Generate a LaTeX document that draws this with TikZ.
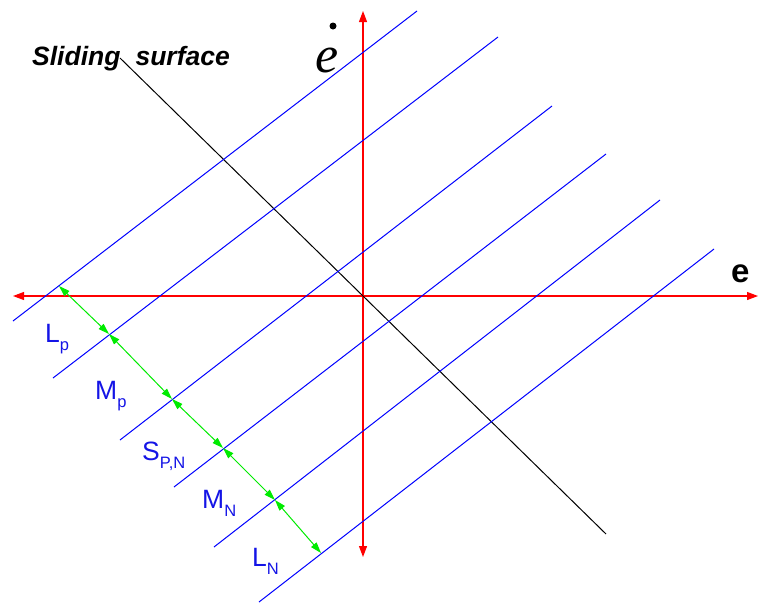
\documentclass[tikz,border=0pt]{standalone}
\usepackage{fontspec}
\setmainfont{Liberation Sans}
\newfontfamily\serifit{Liberation Serif}
\usetikzlibrary{arrows.meta}
\newcommand{\lowsub}[1]{\raisebox{-8pt}{\fontsize{16.5}{16.5}\selectfont #1}}
\definecolor{axisred}{RGB}{255,0,0}
\definecolor{lineblue}{RGB}{0,0,255}
\definecolor{gapgreen}{RGB}{0,235,0}
\definecolor{labelblue}{RGB}{20,20,230}
\tikzset{
  redaxis/.style={draw=axisred, line width=1.1pt, {Triangle[length=11pt,width=8pt]}-{Triangle[length=11pt,width=8pt]}},
  blueline/.style={draw=lineblue, line width=1pt},
  slideline/.style={draw=black, line width=1pt},
  gaparrow/.style={draw=gapgreen, line width=1pt, {Triangle[length=11pt,width=7pt]}-{Triangle[length=11pt,width=7pt]}},
  bandlabel/.style={anchor=base west, inner sep=0pt, text=labelblue, font=\fontsize{26.5}{26.5}\selectfont},
}
\begin{document}
\begin{tikzpicture}[x=1pt,y=-1pt]
\useasboundingbox (0,0) rectangle (759,603);
% axes
\coordinate (xl) at (13,296);
\coordinate (xr) at (758,296);
\coordinate (yt) at (363,11);
\coordinate (yb) at (363,557);
\draw[redaxis] (xl) -- (xr);
\draw[redaxis] (yt) -- (yb);
% sliding surface line
\coordinate (s1) at (120,58);
\coordinate (s2) at (606,534);
\draw[slideline] (s1) -- (s2);
% blue boundary lines
\coordinate (a1) at (13,321);  \coordinate (b1) at (417,11);
\coordinate (a2) at (53,378);  \coordinate (b2) at (498,37);
\coordinate (a3) at (120,440); \coordinate (b3) at (552,106);
\coordinate (a4) at (174,487); \coordinate (b4) at (606,154);
\coordinate (a5) at (214,547); \coordinate (b5) at (660,200);
\coordinate (a6) at (259,602); \coordinate (b6) at (714,249);
\foreach \i in {1,...,6} \draw[blueline] (a\i) -- (b\i);
% green gap arrows
\coordinate (g0) at (59,286);
\coordinate (g1) at (109,334);
\coordinate (g2) at (172,399);
\coordinate (g3) at (223,448);
\coordinate (g4) at (275,500);
\coordinate (g5) at (321,553);
\draw[gaparrow] (g0) -- (g1);
\draw[gaparrow] (g1) -- (g2);
\draw[gaparrow] (g2) -- (g3);
\draw[gaparrow] (g3) -- (g4);
\draw[gaparrow] (g4) -- (g5);
% labels
\node[bandlabel] (lp) at (45,342) {L\lowsub{p}};
\node[bandlabel] (mp) at (95,399) {M\lowsub{p}};
\node[bandlabel] (spn) at (142,460) {S\lowsub{P,N}};
\node[bandlabel] (mn) at (202,508) {M\lowsub{N}};
\node[bandlabel] (ln) at (252,566) {L\lowsub{N}};
\node[anchor=base west, inner sep=0pt, font=\fontsize{26.5}{26.5}\selectfont\bfseries\itshape] (slabel) at (32,65) {Sliding\hspace{15pt}surface};
\node[anchor=base west, inner sep=0pt, font=\fontsize{33}{33}\selectfont\bfseries] (elabel) at (731,282) {e};
\node[anchor=base west, inner sep=0pt, font=\fontsize{52}{52}\selectfont\serifit\itshape] (edlabel) at (315,72) {e};
\fill (333,26) circle (3.5pt);
\end{tikzpicture}
\end{document}
